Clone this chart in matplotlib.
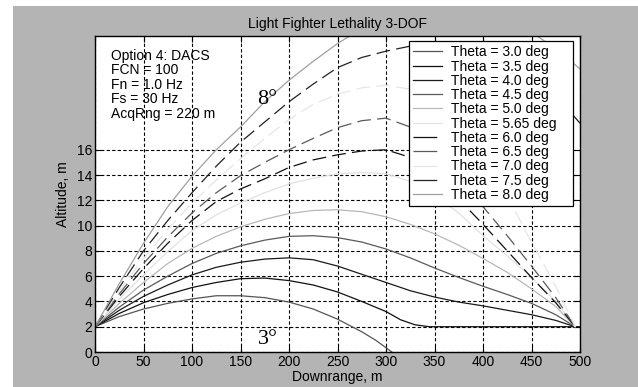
import matplotlib
matplotlib.use("Agg")
import matplotlib.pyplot as plt
from matplotlib.patches import Rectangle

plt.rcParams['font.family'] = ['Liberation Sans', 'DejaVu Sans']

# downrange samples (m)
x_std = [0, 25, 50, 75, 100, 125, 150, 175, 200, 225, 250, 275, 300, 325, 350, 375, 400, 425, 450, 475, 495]
x_long = [0, 25, 50, 75, 100, 125, 150, 175, 200, 225, 250, 275, 300, 325, 350, 375, 400, 425, 450, 475, 500]
x_30 = [0, 25, 50, 75, 100, 125, 150, 175, 200, 225, 250, 275, 290, 306]
x_35 = [0, 25, 50, 75, 100, 125, 150, 175, 200, 225, 250, 275, 300, 315, 330, 345, 500]

# altitude (m) per launch angle
alt_30 = [2, 2.8, 3.4, 3.85, 4.2, 4.45, 4.45, 4.3, 3.95, 3.4, 2.6, 1.6, 0.9, 0]
alt_35 = [2, 3.05, 3.9, 4.55, 5.1, 5.5, 5.8, 5.85, 5.65, 5.3, 4.75, 4.0, 3.2, 2.55, 2.15, 2.0, 2.0]
alt_40 = [2, 3.3, 4.4, 5.3, 6.1, 6.7, 7.1, 7.35, 7.45, 7.3, 6.8, 6.15, 5.5, 4.85, 4.35, 3.95, 3.65, 3.3, 2.95, 2.5, 2.0]
alt_45 = [2, 3.55, 4.9, 6.0, 7.0, 7.8, 8.4, 8.85, 9.15, 9.2, 9.05, 8.7, 8.15, 7.45, 6.65, 5.9, 5.2, 4.55, 3.85, 2.95, 2.0]
alt_50 = [2, 3.85, 5.5, 7.0, 8.2, 9.15, 9.9, 10.5, 10.95, 11.2, 11.25, 11.1, 10.7, 10.1, 9.35, 8.45, 7.4, 6.3, 5.0, 3.6, 2.0]
alt_565 = [2, 4.2, 6.1, 7.95, 9.6, 10.85, 11.8, 12.6, 13.3, 13.75, 14.1, 14.2, 14.1, 13.5, 12.4, 11.0, 9.2, 7.6, 5.9, 4.0, 2.0]
alt_60 = [2, 4.4, 6.6, 8.6, 10.4, 11.9, 12.9, 13.7, 14.6, 15.2, 15.6, 15.9, 16.0, 15.4, 14.1, 12.1, 10.1, 8.0, 5.9, 3.9, 2.0]
alt_65 = [2, 4.6, 7.0, 9.1, 11.0, 12.6, 13.95, 15.0, 16.0, 16.9, 17.75, 18.3, 18.5, 17.8, 16.6, 14.6, 11.5, 9.2, 6.8, 4.3, 2.0]
alt_70 = [2, 4.85, 7.4, 9.7, 11.8, 13.6, 15.3, 16.9, 18.4, 19.6, 20.4, 20.9, 21.1, 20.8, 19.9, 18.3, 15.8, 12.3, 8.7, 5.2, 2.0]
alt_75 = [2, 5.1, 8.0, 10.4, 12.6, 14.7, 16.6, 18.2, 19.8, 21.2, 22.5, 23.3, 23.8, 24.2, 24.35, 24.3, 23.9, 23.2, 22.0, 20.3, 18.1]
alt_80 = [2, 5.4, 8.6, 11.5, 13.9, 16.0, 17.8, 19.8, 21.5, 23.0, 24.4, 25.6, 26.5, 27.1, 27.4, 27.4, 27.1, 26.4, 25.3, 24.0, 22.4]

labels = ["Theta = 3.0 deg", "Theta = 3.5 deg", "Theta = 4.0 deg", "Theta = 4.5 deg",
          "Theta = 5.0 deg", "Theta = 5.65 deg", "Theta = 6.0 deg", "Theta = 6.5 deg",
          "Theta = 7.0 deg", "Theta = 7.5 deg", "Theta = 8.0 deg"]
xs = [x_30, x_35, x_std, x_std, x_std, x_std, x_std, x_std, x_std, x_long, x_long]
ys = [alt_30, alt_35, alt_40, alt_45, alt_50, alt_565, alt_60, alt_65, alt_70, alt_75, alt_80]
colours = ["#555555", "#111111", "#1a1a1a", "#5a5a5a", "#b8b8b8", "#e2e2e2",
           "#111111", "#5a5a5a", "#e6e6e6", "#222222", "#a0a0a0"]
dashed = [False] * 6 + [True] * 4 + [False]

fig = plt.figure(figsize=(6.38, 3.87), dpi=100)
fig.patch.set_facecolor("white")
# grey window area, leaving the white strip on the top and left edges
fig.patches.append(Rectangle((13 / 638, 0), 1, 381 / 387, transform=fig.transFigure,
                             facecolor="#b4b4b4", edgecolor="none", zorder=-10))

ax = fig.add_axes([95 / 638, 35 / 387, 485 / 638, 316 / 387])
ax.set_zorder(1)
ax.set_facecolor("white")

for i in range(len(labels)):
    ls = (0, (11, 5)) if dashed[i] else "-"
    ax.plot(xs[i], ys[i], color=colours[i], lw=0.9, linestyle=ls, label=labels[i])

ax.set_xlim(0, 500)
ax.set_ylim(0, 25)
ax.set_xticks(range(0, 501, 50))
ax.set_yticks(range(0, 17, 2))
ax.tick_params(direction="in", top=True, right=True, length=4, labelsize=10, pad=2)
ax.grid(True, color="k", linestyle=(0, (3, 2)), lw=0.8)
for s in ax.spines.values():
    s.set_linewidth(1.0)

ax.set_title("Light Fighter Lethality 3-DOF", fontsize=10, pad=6)
ax.set_xlabel("Downrange, m", fontsize=10, labelpad=1)
ax.set_ylabel("Altitude, m", fontsize=10, labelpad=5)

ax.text(17, 24.0, "Option 4: DACS\nFCN = 100\nFn = 1.0 Hz\nFs = 30 Hz\nAcqRng = 220 m",
        fontsize=10, va="top", ha="left", linespacing=1.05)
ax.text(167, 19.6, "8°", fontsize=16, family="Liberation Serif", va="baseline")
ax.text(168, 0.63, "3°", fontsize=16, family="Liberation Serif", va="baseline")

leg = ax.legend(loc="upper left", bbox_to_anchor=(0.6474, 0.5, 0.3381, 0.484), mode="expand",
                borderaxespad=0, fontsize=10, fancybox=False, framealpha=1, edgecolor="k",
                handlelength=2.1, handletextpad=0.6, labelspacing=0.02, borderpad=0.3)
leg.get_frame().set_linewidth(0.9)
for i, lh in enumerate(leg.get_lines()):
    if dashed[i]:
        lh.set_dashes((19, 30))

fig.savefig("out.png", dpi=100)
